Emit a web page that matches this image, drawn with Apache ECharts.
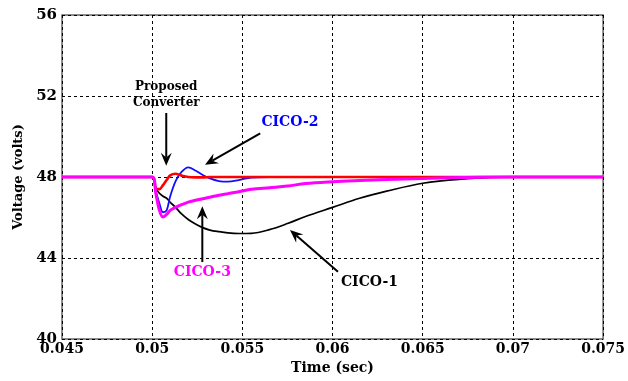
<!DOCTYPE html>
<html>
<head>
<meta charset="utf-8">
<script src="https://cdn.jsdelivr.net/npm/echarts@6/dist/echarts.min.js"></script>
<style>
  html, body { margin: 0; padding: 0; background: #fff; overflow: hidden; }
  #chart { width: 628px; height: 381px; }
</style>
</head>
<body>
<div id="chart"></div>
<script>
// sample times (sec)
var times = [0.045, 0.05, 0.0502, 0.0504, 0.0506, 0.0508, 0.051, 0.0513, 0.0516, 0.052,
  0.0524, 0.0528, 0.0532, 0.0537, 0.0542, 0.0548, 0.0555, 0.0565, 0.0575, 0.0585,
  0.06, 0.0615, 0.063, 0.065, 0.067, 0.07, 0.075];

// voltages
var proposed = [48, 48, 47.45, 47.4, 47.6, 47.85, 48.08, 48.16, 48.08, 48.0,
  47.98, 47.98, 48.0, 48, 48, 48, 48, 48, 48, 48,
  48, 48, 48, 48, 48, 48, 48];
var cico1 = [48, 48, 47.45, 47.2, 47.05, 46.95, 46.75, 46.5, 46.2, 45.9,
  45.68, 45.5, 45.38, 45.3, 45.24, 45.21, 45.22, 45.4, 45.7, 46.05,
  46.5, 46.95, 47.3, 47.69, 47.88, 48, 48];
var cico2 = [48, 48, 47.3, 46.7, 46.26, 46.35, 47.05, 47.8, 48.22, 48.48,
  48.32, 48.1, 47.93, 47.8, 47.77, 47.85, 47.97, 48.0, 48, 48,
  48, 48, 48, 48, 48, 48, 48];
var cico3 = [48, 48, 47.2, 46.35, 46.02, 46.15, 46.35, 46.5, 46.62, 46.76,
  46.85, 46.93, 47.0, 47.1, 47.18, 47.27, 47.39, 47.47, 47.55, 47.68,
  47.77, 47.83, 47.88, 47.93, 47.97, 48, 48];

var xTicks = [0.045, 0.05, 0.055, 0.06, 0.065, 0.07, 0.075];
var yTicks = [40, 44, 48, 52, 56];

// annotations: [label, colour, text pos, arrow start, arrow tip]
var notes = [
  ['Proposed\nConverter', '#000', [0.05078, 52.05], [0.05078, 51.16], [0.05078, 48.55]],
  ['CICO-2', '#0000ff', [0.05764, 50.68], [0.05599, 50.16], [0.05293, 48.6]],
  ['CICO-3', '#ff00ff', [0.05278, 43.27], [0.05278, 43.8], [0.05278, 46.55]],
  ['CICO-1', '#000', [0.06205, 42.78], [0.0603, 43.32], [0.05764, 45.38]]
];

var font = 'DejaVu Serif';

function pairs(vals) {
  return times.map(function (t, i) { return [t, vals[i]]; });
}

var chart = echarts.init(document.getElementById('chart'));

var option = {
  animation: false,
  grid: {
    left: 62, right: 20, top: 15, bottom: 42,
    show: true, borderColor: '#666', borderWidth: 1.5, backgroundColor: '#fff'
  },
  xAxis: {
    type: 'value', min: 0.045, max: 0.075, interval: 0.005,
    name: 'Time (sec)', nameLocation: 'middle', nameGap: 22,
    nameTextStyle: { fontFamily: font, fontWeight: 'bold', fontSize: 14, color: '#000' },
    axisLine: { show: false },
    axisTick: { show: false },
    axisLabel: {
      fontFamily: font, fontWeight: 'bold', fontSize: 14, color: '#000', margin: 3,
      formatter: function (v) {
        var m = xTicks.filter(function (t) { return Math.abs(t - v) < 1e-9; })[0];
        return m === undefined ? '' : String(m);
      }
    },
    splitLine: { lineStyle: { color: '#000', type: [3, 3], width: 1 } }
  },
  yAxis: {
    type: 'value', min: 40, max: 56, interval: 4,
    name: 'Voltage (volts)', nameLocation: 'middle', nameGap: 32,
    nameTextStyle: { fontFamily: font, fontWeight: 'bold', fontSize: 13, color: '#000' },
    axisLine: { show: false },
    axisTick: { show: false },
    axisLabel: {
      fontFamily: font, fontWeight: 'bold', fontSize: 15, color: '#000', margin: 5,
      formatter: function (v) { return yTicks.indexOf(v) >= 0 ? String(v) : ''; }
    },
    splitLine: { lineStyle: { color: '#000', type: [3, 3], width: 1 } }
  },
  series: [
    { name: 'CICO-1', type: 'line', data: pairs(cico1), smooth: 0.35, showSymbol: false,
      lineStyle: { color: '#000', width: 1.7 }, z: 2 },
    { name: 'CICO-2', type: 'line', data: pairs(cico2), smooth: 0.35, showSymbol: false,
      lineStyle: { color: '#1010ff', width: 1.8 }, z: 3 },
    { name: 'Proposed Converter', type: 'line', data: pairs(proposed), smooth: 0.35, showSymbol: false,
      lineStyle: { color: '#ff0000', width: 2.6 }, z: 4 },
    { name: 'CICO-3', type: 'line', data: pairs(cico3), smooth: 0.35, showSymbol: false,
      lineStyle: { color: '#ff00ff', width: 3 }, z: 5 }
  ]
};

chart.setOption(option);

// annotation texts and arrows placed from data coordinates
var graphics = [];
notes.forEach(function (n) {
  var p = chart.convertToPixel({ gridIndex: 0 }, n[2]);
  var a = chart.convertToPixel({ gridIndex: 0 }, n[3]);
  var b = chart.convertToPixel({ gridIndex: 0 }, n[4]);
  var small = n[0].indexOf('\n') >= 0;
  graphics.push({
    type: 'text', x: p[0], y: p[1], z: 100,
    style: {
      text: n[0], fill: n[1], align: 'center', verticalAlign: 'middle',
      font: 'bold ' + (small ? 12 : 14) + 'px "' + font + '"',
      lineHeight: 16
    }
  });
  var dx = b[0] - a[0], dy = b[1] - a[1];
  var len = Math.sqrt(dx * dx + dy * dy);
  var ux = dx / len, uy = dy / len;
  var hl = 13, hw = 5.5;
  var bx = b[0] - ux * hl, by = b[1] - uy * hl;
  var nx = b[0] - ux * hl * 0.65, ny = b[1] - uy * hl * 0.65;
  graphics.push({
    type: 'line', z: 100,
    shape: { x1: a[0], y1: a[1], x2: nx, y2: ny },
    style: { stroke: '#000', lineWidth: 2 }
  });
  graphics.push({
    type: 'polygon', z: 100,
    shape: { points: [
      [b[0], b[1]],
      [bx - uy * hw, by + ux * hw],
      [nx, ny],
      [bx + uy * hw, by - ux * hw]
    ] },
    style: { fill: '#000' }
  });
});
chart.setOption({ graphic: graphics });
</script>
</body>
</html>
